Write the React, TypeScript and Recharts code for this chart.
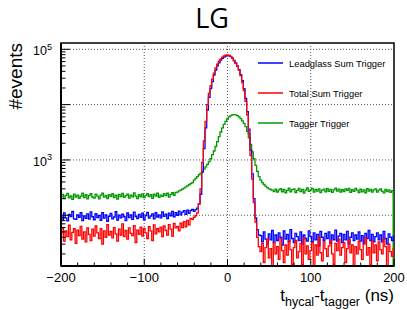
import React from 'react';
import { LineChart, Line, XAxis, YAxis, ReferenceLine, ReferenceArea } from 'recharts';

// time bins: 2 ns wide, centred on -200, -198, ... 200
const binStart = -200;
const binWidth = 2;

// Leadglass Sum Trigger (blue), one row = 10 bins
const leadglassCounts = [
  98, 82, 110, 90, 79, 104, 95, 117, 86, 84,
  101, 92, 112, 80, 97, 88, 106, 85, 115, 94,
  83, 107, 91, 99, 81, 111, 89, 102, 78, 96,
  108, 86, 93, 116, 82, 100, 90, 105, 94, 80,
  110, 91, 101, 84, 114, 95, 87, 104, 92, 109,
  83, 99, 113, 89, 97, 106, 86, 111, 93, 102,
  90, 115, 96, 105, 87, 109, 98, 118, 94, 112,
  100, 119, 102, 114, 121, 104, 124, 108, 122, 128,
  118, 126, 135, 160, 240, 600, 1600, 3800, 8000, 13500,
  19500, 26000, 34000, 42000, 50000, 57000, 63500, 68500, 72500, 75000,
  76500, 76000, 73500, 69000, 63000, 56500, 50000, 43000, 35000, 27000,
  19500, 13000, 7500, 3600, 1500, 560, 200, 90, 55, 44,
  43, 33, 50, 37, 30, 46, 36, 53, 32, 44,
  35, 48, 40, 29, 52, 37, 45, 33, 55, 38,
  32, 47, 41, 35, 50, 30, 44, 38, 34, 52,
  41, 33, 48, 36, 45, 28, 51, 40, 35, 47,
  38, 50, 31, 44, 36, 54, 34, 42, 47, 32,
  45, 36, 51, 30, 40, 48, 35, 44, 37, 50,
  34, 43, 31, 47, 38, 53, 35, 45, 33, 41,
  48, 36, 44, 33, 51, 38, 30, 46, 40, 35,
  42,
];

// Total Sum Trigger (red)
const totalSumCounts = [
  46, 60, 34, 52, 41, 66, 36, 49, 57, 31,
  54, 43, 63, 37, 50, 33, 59, 45, 35, 56,
  42, 64, 48, 38, 57, 30, 52, 40, 68, 44,
  51, 39, 60, 46, 34, 56, 44, 70, 41, 53,
  37, 59, 47, 43, 65, 32, 54, 45, 61, 42,
  58, 48, 38, 62, 52, 35, 67, 46, 57, 50,
  61, 41, 64, 53, 44, 68, 56, 42, 71, 59,
  63, 52, 72, 60, 77, 62, 81, 67, 88, 84,
  92, 98, 110, 160, 300, 900, 2200, 5000, 10000, 16000,
  22000, 29000, 37000, 46000, 54000, 61000, 67000, 72000, 76000, 78500,
  79500, 78000, 74500, 69000, 62000, 55000, 49000, 42000, 33000, 25000,
  18000, 11500, 6500, 3000, 1200, 450, 170, 75, 40, 27,
  22, 31, 14, 26, 37, 17, 25, 12, 32, 20,
  27, 16, 38, 23, 14, 29, 19, 34, 24, 13,
  26, 35, 17, 22, 31, 13, 38, 20, 28, 16,
  23, 32, 12, 29, 19, 40, 21, 15, 33, 25,
  18, 28, 35, 20, 13, 31, 23, 37, 19, 26,
  32, 14, 25, 36, 21, 29, 12, 27, 20, 34,
  24, 16, 30, 39, 19, 26, 13, 34, 21, 29,
  15, 33, 24, 20, 37, 27, 12, 30, 22, 18,
  25,
];

// Tagger Trigger (green); the last bin is empty
const taggerCounts = [
  218, 238, 200, 228, 248, 207, 225, 194, 242, 212,
  231, 203, 221, 252, 209, 235, 197, 226, 245, 214,
  205, 240, 222, 198, 232, 250, 213, 229, 201, 236,
  220, 246, 208, 230, 195, 239, 217, 249, 210, 226,
  241, 204, 231, 215, 253, 222, 200, 235, 216, 243,
  208, 229, 247, 217, 236, 202, 242, 223, 251, 211,
  232, 219, 245, 226, 250, 214, 239, 255, 230, 258,
  262, 275, 284, 296, 310, 325, 340, 356, 372, 388,
  430, 465, 500, 540, 580, 620, 680, 750, 830, 920,
  1050, 1250, 1450, 1750, 2150, 2650, 3200, 3800, 4400, 5000,
  5500, 6000, 6300, 6500, 6600, 6550, 6350, 6000, 5600, 5100,
  4600, 4000, 3300, 2500, 1900, 1400, 1050, 800, 620, 500,
  430, 390, 360, 335, 315, 300, 292, 285, 268, 296,
  262, 288, 303, 266, 293, 255, 281, 308, 264, 290,
  299, 258, 282, 305, 268, 294, 252, 285, 312, 270,
  287, 306, 261, 292, 274, 301, 256, 284, 296, 265,
  303, 270, 293, 259, 287, 310, 273, 296, 262, 289,
  268, 299, 283, 305, 260, 291, 271, 307, 284, 257,
  295, 265, 288, 255, 302, 274, 294, 263, 287, 300,
  261, 284, 301, 270, 253, 292, 267, 288, 259, 279,
  1,
];

const seriesNames = ['Leadglass Sum Trigger', 'Total Sum Trigger', 'Tagger Trigger'];
const seriesColors = ['#0000ff', '#ff0000', '#009900'];

const xTicks = [-200, -180, -160, -140, -120, -100, -80, -60, -40, -20, 0, 20, 40, 60, 80, 100, 120, 140, 160, 180, 200];
const xLabelled = [-200, -100, 0, 100, 200];
const xGrid = [-100, 0, 100];

const yTicks = [
  20, 30, 40, 50, 60, 70, 80, 90,
  100, 200, 300, 400, 500, 600, 700, 800, 900,
  1000, 2000, 3000, 4000, 5000, 6000, 7000, 8000, 9000,
  10000, 20000, 30000, 40000, 50000, 60000, 70000, 80000, 90000,
  100000,
];
const yDecades = [100, 1000, 10000, 100000];
const yLabelled = [1000, 100000];

const Y_MIN = 12.1;
const Y_MAX = 130000;

const data = leadglassCounts.map((v, i) => ({
  t: binStart + i * binWidth,
  lg: v,
  tot: totalSumCounts[i],
  tag: taggerCounts[i],
}));

const FONT = '"Liberation Sans", Arial, Helvetica, sans-serif';

function XTick(props: any) {
  const { x, y, payload } = props;
  const v = payload.value;
  const major = v % 100 === 0;
  return (
    <g>
      <line x1={x} x2={x} y1={y} y2={y - (major ? 7 : 3.5)} stroke="#000" strokeWidth={1} />
      {xLabelled.includes(v) && (
        <text x={x} y={y + 16} textAnchor="middle" fontFamily={FONT} fontSize={13} fill="#000">
          {v < 0 ? '\u2212' + Math.abs(v) : String(v)}
        </text>
      )}
    </g>
  );
}

function YTick(props: any) {
  const { x, y, payload } = props;
  const v = payload.value;
  const major = yDecades.includes(v);
  return (
    <g>
      <line x1={x} x2={x + (major ? 9 : 4.5)} y1={y} y2={y} stroke="#000" strokeWidth={1} />
      {yLabelled.includes(v) && (
        <text x={x - 9} y={y + 6} textAnchor="end" fontFamily={FONT} fontSize={12.5} fill="#000">
          10<tspan dy={-5.5} fontSize={9}>{Math.round(Math.log10(v))}</tspan>
        </text>
      )}
    </g>
  );
}

export default function App() {
  const keys = ['lg', 'tot', 'tag'];
  const drawOrder = [2, 0, 1];
  return (
    <div style={{ position: 'absolute', left: 0, top: 0, width: 407, height: 310, background: '#fff' }}>
      <LineChart width={407} height={310} data={data} margin={{ top: 43, right: 13, bottom: 0, left: 0 }}>
        <XAxis
          dataKey="t"
          type="number"
          domain={[-200, 200]}
          ticks={xTicks}
          interval={0}
          height={44}
          tickSize={0}
          tickMargin={0}
          tickLine={false}
          tick={<XTick />}
          axisLine={{ stroke: '#000', strokeWidth: 2 }}
        />
        <YAxis
          type="number"
          scale="log"
          domain={[Y_MIN, Y_MAX]}
          allowDataOverflow
          ticks={yTicks}
          interval={0}
          width={61}
          tickSize={0}
          tickMargin={0}
          tickLine={false}
          tick={<YTick />}
          axisLine={{ stroke: '#000', strokeWidth: 2 }}
        />
        {xGrid.map((g) => (
          <ReferenceLine key={'x' + g} x={g} stroke="#555" strokeDasharray="1 2" strokeWidth={1} />
        ))}
        {yDecades.map((g) => (
          <ReferenceLine key={'y' + g} y={g} stroke="#555" strokeDasharray="1 2" strokeWidth={1} />
        ))}
        {drawOrder.map((i) => (
          <Line
            key={keys[i]}
            dataKey={keys[i]}
            name={seriesNames[i]}
            stroke={seriesColors[i]}
            strokeWidth={1.3}
            type="step"
            dot={false}
            isAnimationActive={false}
          />
        ))}
        <ReferenceArea x1={-200} x2={200} y1={Y_MIN} y2={Y_MAX} fill="none" stroke="#000" strokeWidth={1.5} />
      </LineChart>
      <svg width={407} height={310} style={{ position: 'absolute', left: 0, top: 0, pointerEvents: 'none' }}>
        <text x={212} y={28} textAnchor="middle" fontFamily='"Open Sans", sans-serif' fontSize={27} fill="#000">
          LG
        </text>
        <text
          transform="translate(22,43) rotate(-90)"
          textAnchor="end"
          fontFamily={FONT}
          fontSize={19}
          fill="#000"
        >
          #events
        </text>
        <text x={394} y={301} textAnchor="end" fontFamily={FONT} fontSize={17} fill="#000">
          t<tspan dy={5} fontSize={12.5}>hycal</tspan>
          <tspan dy={-5}>-t</tspan>
          <tspan dy={5} fontSize={12.5}>tagger</tspan>
          <tspan dy={-5}> (ns)</tspan>
        </text>
        {seriesNames.map((name, i) => (
          <g key={name}>
            <line x1={258} x2={283} y1={63 + i * 30} y2={63 + i * 30} stroke={seriesColors[i]} strokeWidth={1.5} />
            <text x={289} y={66.5 + i * 30} fontFamily={FONT} fontSize={9.4} fill="#000">
              {name}
            </text>
          </g>
        ))}
      </svg>
    </div>
  );
}
